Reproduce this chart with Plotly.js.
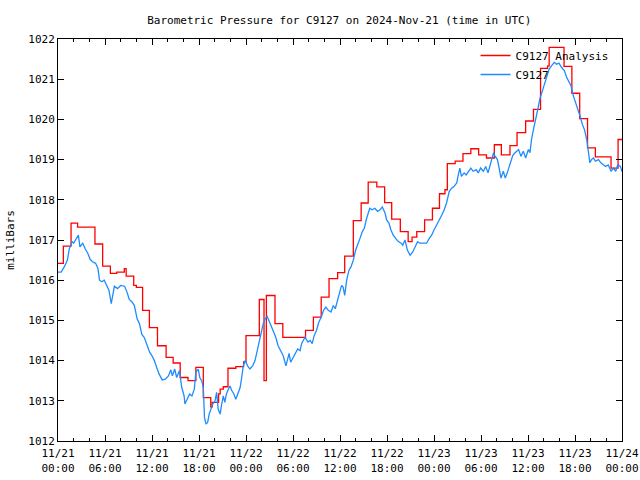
<!DOCTYPE html>
<html>
<head>
<meta charset="utf-8">
<script src="https://cdn.plot.ly/plotly-3.0.1.min.js"></script>
<style>html,body{margin:0;padding:0;background:#fff;}#chart{width:640px;height:480px;}</style>
</head>
<body>
<div id="chart"></div>
<script>
// Hours since 2024-11-21 00:00 UTC
const redHours = [0,0.68,1.66,2.5,4.72,5.7,6.68,7.5,8.47,8.7,9.66,10.0,10.8,11.66,12.7,13.8,14.7,15.6,16.6,17.6,18.55,19.5,19.7,20.5,20.7,21.1,21.7,22.7,23.7,24.0,25.7,26.3,26.6,27.7,28.7,31.6,32.6,33.6,34.6,35.7,36.6,37.7,38.7,39.6,40.7,41.7,42.6,43.7,44.7,45.2,45.8,46.8,47.8,48.7,49.4,49.7,50.7,51.7,52.7,53.7,54.7,55.7,56.6,57.7,58.6,59.7,60.7,61.6,62.5,62.7,64.6,65.6,66.6,67.6,68.6,70.6,71.5,72.0];
const redValues = [1016.42,1016.85,1017.42,1017.32,1016.9,1016.35,1016.17,1016.2,1016.29,1016.1,1015.87,1015.82,1015.25,1014.82,1014.37,1014.08,1013.94,1013.58,1013.5,1013.83,1013.08,1012.85,1012.96,1013.17,1013.29,1013.35,1013.81,1013.85,1013.97,1014.62,1015.52,1013.5,1015.62,1014.92,1014.58,1014.75,1015.08,1015.58,1016.04,1016.19,1016.6,1017.48,1017.92,1018.44,1018.32,1017.93,1017.52,1017.21,1016.96,1017.07,1017.21,1017.5,1017.79,1018.15,1018.25,1018.9,1018.96,1019.15,1019.27,1019.12,1019.04,1019.37,1019.12,1019.35,1019.67,1019.96,1020.25,1021.27,1021.33,1021.79,1021.32,1020.65,1020.02,1019.29,1019.07,1018.79,1019.5,1019.5];

const blueHours = [0.0,0.4,0.8,1.2,1.45,1.8,2.0,2.4,2.6,2.8,3.15,3.5,3.8,4.1,4.4,4.8,5.1,5.3,5.6,5.9,6.2,6.5,6.8,7.0,7.2,7.6,8.0,8.5,8.8,9.1,9.45,9.75,10.1,10.4,10.7,11.0,11.3,11.7,12.0,12.3,12.6,12.9,13.3,13.7,14.1,14.4,14.6,14.9,15.15,15.5,15.8,16.1,16.2,16.5,16.8,17.1,17.4,17.6,17.9,18.1,18.35,18.55,18.7,18.9,19.1,19.3,19.5,19.75,20.05,20.25,20.45,20.7,20.9,21.1,21.3,21.5,21.75,21.95,22.2,22.45,22.7,22.95,23.25,23.45,23.65,23.9,24.2,24.5,24.85,25.15,25.45,25.7,26.0,26.2,26.45,26.7,27.0,27.3,27.6,27.8,28.1,28.4,28.75,29.1,29.3,29.5,29.7,30.0,30.35,30.6,30.9,31.1,31.3,31.55,31.9,32.2,32.45,32.7,33.0,33.3,33.6,33.9,34.2,34.5,34.85,35.15,35.4,35.7,36.0,36.2,36.4,36.6,36.85,37.15,37.4,37.7,38.0,38.25,38.55,38.85,39.1,39.4,39.6,39.8,40.1,40.45,40.8,41.1,41.4,41.75,41.95,42.25,42.5,42.8,43.1,43.45,43.8,44.0,44.3,44.6,44.95,45.3,45.6,45.9,46.2,46.65,47.05,47.4,47.7,48.0,48.35,48.7,49.0,49.3,49.6,49.95,50.25,50.55,50.9,51.1,51.3,51.5,51.85,52.1,52.4,52.7,53.0,53.4,53.65,53.95,54.3,54.6,54.9,55.25,55.6,55.75,56.1,56.35,56.55,56.85,57.1,57.35,57.7,58.05,58.35,58.8,59.1,59.4,59.7,60.05,60.25,60.45,60.7,61.0,61.25,61.5,61.85,62.1,62.4,62.7,63.0,63.35,63.65,63.95,64.3,64.65,64.95,65.2,65.5,65.8,66.1,66.35,66.65,66.95,67.2,67.5,67.7,67.9,68.1,68.35,68.6,69.0,69.3,69.6,69.9,70.25,70.6,70.9,71.2,71.45,71.8,72.0];
const blueValues = [1016.2,1016.2,1016.33,1016.5,1016.79,1016.96,1016.92,1017.04,1017.12,1016.83,1016.92,1016.77,1016.67,1016.52,1016.46,1016.42,1016.29,1016.0,1015.96,1016.0,1015.87,1015.75,1015.42,1015.67,1015.85,1015.79,1015.87,1015.85,1015.71,1015.52,1015.46,1015.37,1015.04,1014.92,1014.65,1014.58,1014.42,1014.21,1014.12,1014.0,1013.83,1013.67,1013.52,1013.54,1013.62,1013.77,1013.62,1013.79,1013.58,1013.75,1013.33,1013.12,1012.92,1013.04,1013.17,1013.12,1013.29,1013.71,1013.79,1013.58,1013.5,1013.33,1012.58,1012.42,1012.46,1012.67,1012.79,1012.92,1013.0,1013.21,1012.79,1012.67,1012.92,1013.12,1012.96,1013.17,1013.29,1013.37,1013.25,1013.17,1013.04,1013.17,1013.33,1013.58,1013.87,1014.0,1013.87,1013.79,1013.87,1014.0,1014.25,1014.5,1014.75,1014.92,1015.04,1015.1,1014.96,1014.83,1014.71,1014.58,1014.37,1014.25,1014.12,1013.87,1014.04,1014.18,1013.96,1014.08,1014.21,1014.29,1014.25,1014.42,1014.5,1014.58,1014.46,1014.5,1014.42,1014.62,1014.75,1014.96,1015.08,1015.25,1015.33,1015.25,1015.21,1015.37,1015.29,1015.5,1015.67,1015.87,1015.83,1015.62,1016.0,1016.25,1016.33,1016.5,1016.75,1016.87,1017.04,1017.21,1017.29,1017.54,1017.67,1017.79,1017.75,1017.79,1017.71,1017.75,1017.82,1017.67,1017.5,1017.42,1017.25,1017.12,1017.04,1016.96,1016.92,1016.87,1017.0,1016.75,1016.62,1016.71,1016.83,1016.96,1016.92,1016.92,1016.92,1017.04,1017.12,1017.25,1017.37,1017.5,1017.62,1017.75,1017.92,1018.21,1018.29,1018.33,1018.42,1018.62,1018.79,1018.58,1018.67,1018.62,1018.71,1018.79,1018.71,1018.75,1018.67,1018.79,1018.71,1018.83,1018.67,1018.96,1019.17,1019.1,1019.0,1018.75,1018.54,1018.71,1018.54,1018.67,1018.9,1019.1,1019.17,1019.25,1019.08,1019.21,1019.04,1019.25,1019.17,1019.5,1019.75,1020.0,1020.25,1020.5,1020.71,1020.87,1021.08,1021.25,1021.33,1021.42,1021.37,1021.4,1021.29,1021.21,1021.04,1020.96,1020.83,1020.58,1020.42,1020.29,1020.08,1019.87,1019.75,1019.5,1019.17,1018.92,1019.0,1019.04,1018.96,1019.0,1018.92,1018.87,1018.83,1018.87,1018.71,1018.79,1018.71,1018.87,1018.83,1018.7];

const tickHours = [0,6,12,18,24,30,36,42,48,54,60,66,72];
const tickLabels = ['11/21<br>00:00','11/21<br>06:00','11/21<br>12:00','11/21<br>18:00','11/22<br>00:00','11/22<br>06:00','11/22<br>12:00','11/22<br>18:00','11/23<br>00:00','11/23<br>06:00','11/23<br>12:00','11/23<br>18:00','11/24<br>00:00'];

function pad(n){return (n<10?'0':'')+n;}
function hourToStr(h){
  const m = Math.round(h*60);
  const day = 21 + Math.floor(m/1440);
  const rem = m % 1440;
  return '2024-11-' + pad(day) + ' ' + pad(Math.floor(rem/60)) + ':' + pad(rem%60);
}

const font = {family:'DejaVu Sans Mono, Liberation Mono, monospace', size:11, color:'#000'};

const traces = [
  {x: redHours.map(hourToStr), y: redValues, type:'scatter', mode:'lines', name:'C9127 Analysis',
   line:{color:'#ff0000', width:1.3, shape:'hv'}},
  {x: blueHours.map(hourToStr), y: blueValues, type:'scatter', mode:'lines', name:'C9127',
   line:{color:'#1e8cff', width:1.3}}
];

const layout = {
  width:640, height:480,
  margin:{l:58, r:18, t:39, b:39},
  paper_bgcolor:'#fff', plot_bgcolor:'#fff',
  font: font,
  title:{text:'Barometric Pressure for C9127 on 2024-Nov-21 (time in UTC)', font:font, x:0.53, xanchor:'center', y:0.958, yanchor:'middle'},
  showlegend:true,
  legend:{x:0.985, xanchor:'right', y:0.995, yanchor:'top', bgcolor:'rgba(0,0,0,0)', font:font, tracegroupgap:0, itemwidth:30},
  xaxis:{
    type:'date',
    range:[hourToStr(0), hourToStr(72)],
    tickvals: tickHours.map(hourToStr), ticktext: tickLabels,
    ticks:'inside', ticklen:6, tickcolor:'#000', ticklabelstandoff:2,
    minor:{dtick:2*3600*1000, ticks:'inside', ticklen:3, tickcolor:'#000', showgrid:false},
    showline:true, linecolor:'#000', linewidth:1, mirror:'ticks',
    showgrid:false, zeroline:false, tickfont:font
  },
  yaxis:{
    range:[1012,1022], dtick:1, tick0:1012,
    ticks:'inside', ticklen:6, tickcolor:'#000',
    showline:true, linecolor:'#000', linewidth:1, mirror:'ticks',
    showgrid:false, zeroline:false, tickfont:font,
    title:{text:'milliBars', font:font, standoff:11}
  }
};

Plotly.newPlot('chart', traces, layout, {staticPlot:true, displayModeBar:false});
</script>
</body>
</html>
